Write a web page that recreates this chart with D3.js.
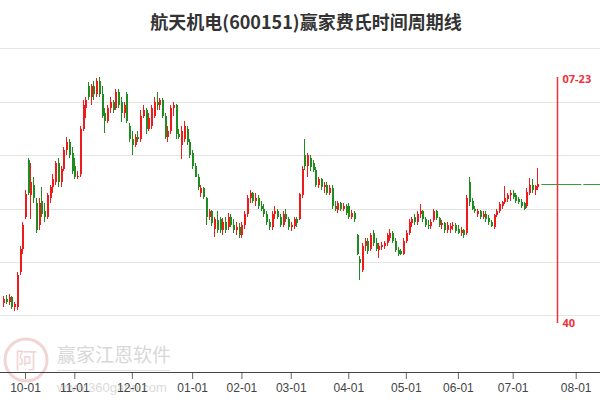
<!DOCTYPE html>
<html><head><meta charset="utf-8">
<script src="https://cdn.jsdelivr.net/npm/d3@7/dist/d3.min.js"></script>
<style>html,body{margin:0;padding:0;background:#fff;}svg{display:block;}</style>
</head><body>
<svg id="c" width="600" height="400"></svg>
<script>
// ---------- data ----------
const title = "航天机电(600151)赢家费氏时间周期线";
const monthLabels = ["10-01","11-01","12-01","01-01","02-01","03-01","04-01","05-01","06-01","07-01","08-01"];
const monthTradingDays = [18,21,22,18,18,21,21,19,20,23]; // Oct..Jul
const preOctDays = 8;            // candles before the 10-01 tick
const cycleLabel = "07-23";
const cycleOffsetInJuly = 16;    // trading days after 07-01
const cycleCount = "40";
const gridValues = [6,7,8,9,10];

const open  = [6.22,6.30,6.25,6.33,6.15,6.15,6.80,7.25,
7.85,8.92,8.25,8.45,8.10,7.70,8.15,7.95,7.85,8.20,8.40,8.50,8.85,8.50,8.75,9.10,9.25,9.05,
8.80,8.60,8.65,9.50,9.90,10.30,10.10,10.30,10.15,10.40,10.15,9.80,9.65,9.90,10.00,9.90,10.20,10.00,9.80,10.15,9.55,
9.30,9.20,9.35,9.30,9.75,9.85,9.50,9.55,9.75,10.00,9.95,10.05,9.75,9.35,9.45,9.90,9.95,9.40,9.20,9.30,9.50,9.25,
9.05,8.80,8.60,8.30,8.38,8.20,7.85,7.95,7.62,7.78,7.80,7.60,7.75,7.65,7.85,7.70,7.60,7.65,
7.50,7.70,7.90,8.20,8.30,8.15,8.20,8.05,8.00,7.90,7.75,7.65,7.90,7.95,7.85,7.70,7.90,7.80,
7.65,7.68,7.80,7.80,8.25,9.00,8.80,8.95,8.85,8.72,8.45,8.55,8.40,8.45,8.30,8.38,8.05,7.98,8.10,8.00,8.05,
8.05,7.85,7.92,7.50,7.05,6.85,7.30,7.40,7.25,7.55,7.35,7.22,7.28,7.30,7.35,7.45,7.55,7.40,7.22,7.20,7.15,
7.40,7.55,7.72,7.85,7.75,7.90,7.95,7.80,7.70,7.68,7.78,7.95,7.82,7.70,7.72,7.60,7.62,7.68,7.70,
7.62,7.55,7.60,7.55,8.50,8.15,8.00,7.90,7.95,7.85,7.90,7.82,7.75,7.65,7.88,7.95,8.05,8.12,8.18,8.25,
8.30,8.25,8.18,8.12,8.10,8.05,8.30,8.45,8.35,8.40];
const high  = [6.35,6.38,6.40,6.36,6.25,6.80,7.30,7.75,
8.35,8.95,8.85,8.60,8.20,8.20,8.40,8.10,8.30,8.45,8.65,8.90,8.95,8.80,9.15,9.35,9.30,9.15,
8.95,8.70,9.55,10.05,10.10,10.38,10.35,10.40,10.45,10.48,10.30,9.90,9.95,10.10,10.05,10.25,10.25,10.10,10.00,10.20,9.60,
9.45,9.40,9.45,9.85,9.95,9.90,9.80,9.95,10.10,10.20,10.08,10.08,9.80,9.55,9.95,10.00,9.97,9.50,9.55,9.65,9.55,9.30,
9.10,8.85,8.65,8.45,8.40,8.22,8.00,7.98,7.85,7.95,7.85,7.82,7.85,7.92,7.90,7.80,7.75,7.72,
7.75,7.95,8.25,8.35,8.32,8.30,8.25,8.15,8.08,7.95,7.80,7.95,8.05,8.00,7.90,7.95,8.00,7.85,
7.75,7.85,7.85,8.30,8.80,9.30,9.05,9.00,8.92,8.78,8.60,8.58,8.50,8.50,8.45,8.45,8.15,8.15,8.12,8.10,8.08,
8.10,7.98,7.95,7.52,7.10,7.35,7.45,7.45,7.55,7.60,7.45,7.35,7.38,7.40,7.55,7.62,7.58,7.45,7.28,7.25,7.45,
7.60,7.80,7.85,7.90,7.95,8.08,7.98,7.85,7.78,7.80,8.00,7.98,7.85,7.78,7.75,7.75,7.72,7.75,7.72,
7.70,7.65,7.62,8.25,8.60,8.20,8.05,8.00,7.98,7.95,7.95,7.88,7.78,7.90,8.00,8.12,8.15,8.42,8.30,8.35,
8.35,8.30,8.22,8.18,8.12,8.38,8.58,8.55,8.45,8.76];
const low   = [6.15,6.20,6.18,6.12,6.08,6.10,6.75,7.15,
7.80,8.25,7.80,8.10,7.55,7.60,7.85,7.75,7.80,8.10,8.30,8.45,8.40,8.40,8.70,9.00,8.95,8.65,
8.55,8.55,8.60,9.45,9.70,10.05,9.95,10.05,10.10,10.10,9.70,9.42,9.60,9.80,9.80,9.85,9.90,9.62,9.70,9.60,9.25,
9.00,9.15,9.25,9.25,9.70,9.40,9.45,9.50,9.70,9.85,9.85,9.70,9.30,9.25,9.40,9.75,9.30,9.30,8.93,9.25,9.20,8.95,
8.75,8.70,8.35,8.22,8.18,7.70,7.78,7.68,7.47,7.55,7.55,7.50,7.55,7.60,7.65,7.55,7.50,7.45,
7.45,7.62,7.85,8.10,8.10,8.05,8.00,7.95,7.85,7.70,7.60,7.60,7.80,7.80,7.65,7.65,7.75,7.60,
7.58,7.62,7.65,7.78,8.20,8.72,8.60,8.70,8.68,8.40,8.38,8.35,8.30,8.25,8.25,8.00,7.95,7.92,7.95,7.95,7.88,
7.80,7.80,7.75,7.12,6.65,6.80,7.20,7.15,7.20,7.30,7.20,7.08,7.22,7.25,7.30,7.40,7.35,7.18,7.10,7.12,7.12,
7.35,7.50,7.65,7.70,7.70,7.82,7.75,7.65,7.62,7.62,7.75,7.78,7.65,7.62,7.55,7.55,7.55,7.60,7.55,
7.52,7.48,7.45,7.50,8.05,7.98,7.92,7.85,7.80,7.80,7.75,7.70,7.65,7.62,7.85,7.92,8.00,8.08,8.12,8.15,
8.18,8.10,8.08,8.02,7.98,8.02,8.25,8.30,8.25,8.35];
const close = [6.30,6.25,6.33,6.15,6.20,6.75,7.25,7.70,
8.28,8.30,8.50,8.20,7.60,8.10,7.90,7.85,8.25,8.40,8.55,8.85,8.50,8.75,9.10,9.25,9.00,8.70,
8.60,8.62,9.50,9.95,10.05,10.10,10.30,10.15,10.40,10.15,9.75,9.65,9.90,10.00,9.85,10.20,9.95,9.80,9.95,9.65,9.30,
9.20,9.35,9.30,9.75,9.85,9.50,9.70,9.90,10.00,9.95,10.05,9.75,9.35,9.45,9.90,9.95,9.40,9.35,9.45,9.55,9.25,9.00,
8.80,8.60,8.40,8.38,8.22,7.85,7.95,7.72,7.80,7.60,7.60,7.75,7.60,7.85,7.70,7.60,7.65,7.50,
7.70,7.90,8.20,8.30,8.15,8.20,8.05,8.00,7.90,7.75,7.65,7.90,7.95,7.85,7.70,7.90,7.80,7.65,
7.70,7.80,7.72,8.28,8.75,8.80,9.00,8.78,8.72,8.45,8.55,8.40,8.45,8.30,8.38,8.05,8.00,8.10,8.00,8.05,7.92,
7.85,7.92,7.80,7.15,6.98,7.30,7.40,7.20,7.50,7.35,7.25,7.30,7.32,7.35,7.50,7.55,7.40,7.22,7.15,7.15,7.40,
7.55,7.75,7.80,7.75,7.90,7.95,7.80,7.70,7.68,7.75,7.95,7.82,7.70,7.72,7.60,7.70,7.68,7.70,7.58,
7.55,7.60,7.50,8.20,8.12,8.00,7.95,7.95,7.85,7.90,7.80,7.75,7.68,7.88,7.95,8.08,8.12,8.20,8.25,8.30,
8.22,8.15,8.12,8.05,8.00,8.32,8.45,8.35,8.42,8.46];

// ---------- layout ----------
const W = 600, H = 400;
const svg = d3.select("#c");
const cjk = "'Noto Sans CJK SC','Noto Sans',sans-serif";

const tickIdx = [0];
monthTradingDays.forEach(d => tickIdx.push(tickIdx[tickIdx.length-1] + d));
const candles = close.map((c,k) => ({i: k - preOctDays, o: open[k], h: high[k], l: low[k], c}));
const cycleIdx = tickIdx[9] + cycleOffsetInJuly;

const x = d3.scaleLinear().domain([tickIdx[0], tickIdx[tickIdx.length-1]]).range([25, 575.7]);
const y = d3.scaleLinear().domain([6, 10]).range([315, 102.2]);

// title
svg.append("text").attr("x", 306).attr("y", 29).attr("text-anchor","middle")
  .attr("font-family", cjk).attr("font-weight","bold").attr("font-size", 18)
  .attr("fill","#333").text(title);
svg.append("line").attr("x1",0).attr("x2",W).attr("y1",48.5).attr("y2",48.5)
  .attr("stroke","#e6e6e6");

// gridlines
svg.append("g").selectAll("line").data(gridValues).join("line")
  .attr("x1",0).attr("x2",W)
  .attr("y1",d=>Math.round(y(d))+0.5).attr("y2",d=>Math.round(y(d))+0.5)
  .attr("stroke","#e4e4e4");

// watermark
const wm = svg.append("g").attr("opacity",0.55);
wm.append("circle").attr("cx",26).attr("cy",360).attr("r",21)
  .attr("fill","none").attr("stroke","#e7b3b3").attr("stroke-width",3);
wm.append("text").attr("x",26).attr("y",368).attr("text-anchor","middle")
  .attr("font-family",cjk).attr("font-size",22).attr("fill","#e7b3b3").text("阿");
wm.append("text").attr("x",57).attr("y",362).attr("font-family",cjk)
  .attr("font-size",19).attr("fill","#b9b9b9").text("赢家江恩软件");
wm.append("line").attr("x1",57).attr("x2",170).attr("y1",370.5).attr("y2",370.5)
  .attr("stroke","#c8c8c8");
wm.append("text").attr("x",57).attr("y",392).attr("font-family","'Liberation Sans',sans-serif")
  .attr("font-size",13).attr("fill","#bdbdbd").text("www.360gann.com");

// x axis
const axisY = 372;
const ax = d3.axisBottom(x).tickValues(tickIdx).tickFormat((d,k)=>monthLabels[k]).tickSize(7).tickPadding(4);
const axG = svg.append("g").attr("transform",`translate(0,${axisY})`).call(ax);
axG.select(".domain").remove();
axG.append("line").attr("x1",0).attr("x2",W).attr("y1",0.5).attr("y2",0.5).attr("stroke","#444");
axG.selectAll(".tick line").attr("stroke","#666");
axG.selectAll(".tick text").attr("fill","#444").attr("font-size",12)
  .attr("font-family","'Liberation Sans Narrow','Liberation Sans',sans-serif");

// candles
const RED = "#f01a1a", GREEN = "#1f8c1f";
const cg = svg.append("g").attr("shape-rendering","crispEdges");
candles.forEach(d => {
  const xc = Math.round(x(d.i));
  const col = d.c >= d.o ? RED : GREEN;
  cg.append("rect").attr("x", xc).attr("width",1)
    .attr("y", y(d.h)).attr("height", Math.max(1, y(d.l)-y(d.h))).attr("fill", col);
  const top = y(Math.max(d.o,d.c)), bot = y(Math.min(d.o,d.c));
  cg.append("rect").attr("x", xc).attr("width",2)
    .attr("y", top).attr("height", Math.max(1, bot-top)).attr("fill", col);
});

// last price line
const last = candles[candles.length-1];
svg.append("line").attr("x1", x(last.i)+4).attr("x2", W)
  .attr("y1", Math.round(y(last.c))+0.5).attr("y2", Math.round(y(last.c))+0.5)
  .attr("stroke","#3c9a3c").attr("stroke-width",1).attr("stroke-dasharray","40,2");

// time-cycle line
const cx = Math.round(x(cycleIdx))+0.5;
const CYC = "#f0303a";
svg.append("rect").attr("x",cx-0.75).attr("width",1.5).attr("y",77).attr("height",246)
  .attr("fill",CYC);
svg.append("text").attr("x",cx+5).attr("y",83).attr("font-family","'Open Sans','Noto Sans',sans-serif")
  .attr("font-weight","bold").attr("font-size",11).attr("fill",CYC).text(cycleLabel);
svg.append("text").attr("x",cx+5).attr("y",327).attr("font-family","'Open Sans','Noto Sans',sans-serif")
  .attr("font-weight","bold").attr("font-size",11).attr("fill",CYC).text(cycleCount);
</script>
</body></html>
